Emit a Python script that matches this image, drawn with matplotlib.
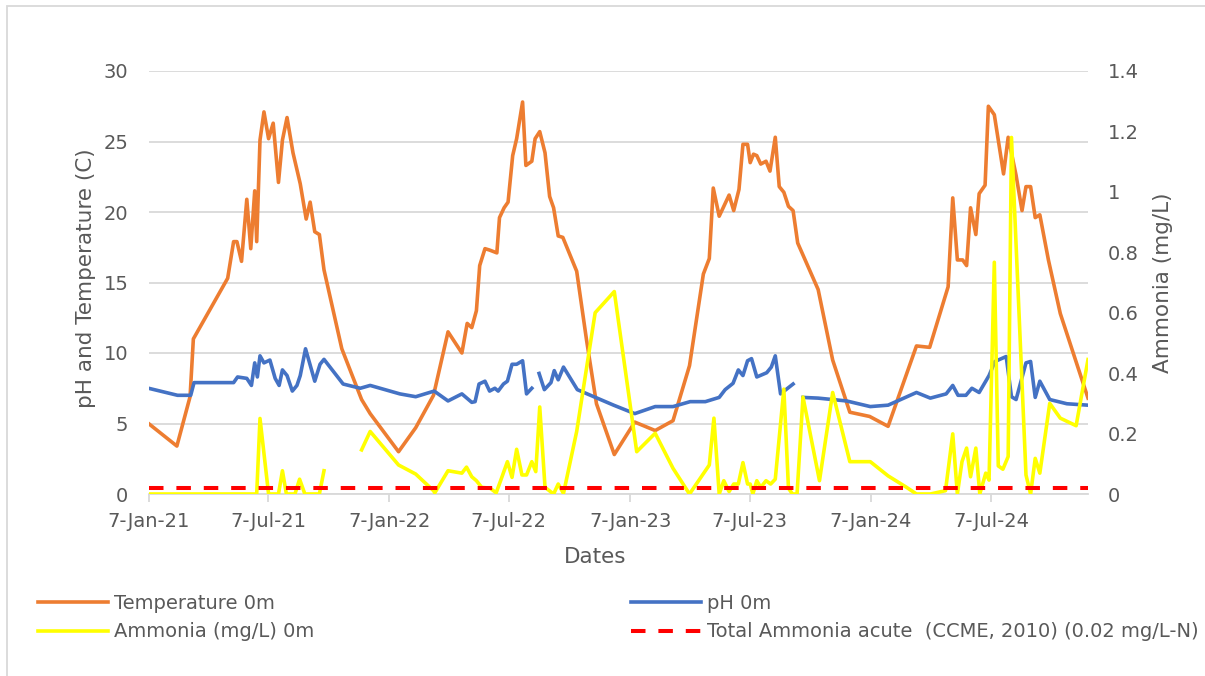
import numpy as np
import pandas as pd
import matplotlib
matplotlib.use("Agg")
import matplotlib.pyplot as plt
from matplotlib.patches import Rectangle

plt.rcParams['font.family'] = ['DejaVu Sans']

# sampling day = days since first sample (7-Jan-21)
start = pd.Timestamp("2021-01-07")
last_day = 1424

temp_days = [0, 43, 63, 68, 120, 129, 134, 141, 149, 155, 161, 164, 169, 175, 182, 189,
             197, 203, 210, 219, 230, 239, 245, 252, 259, 266, 293, 323, 336, 379, 405,
             432, 454, 475, 483, 490, 497, 502, 510, 517, 528, 532, 539, 545, 552, 558,
             567, 572, 581, 586, 593, 601, 608, 614, 621, 628, 649, 664, 679, 706, 737,
             768, 795, 820, 841, 850, 856, 865, 880, 887, 895, 901, 908, 912, 917, 922,
             928, 936, 942, 950, 956, 963, 970, 977, 984, 1015, 1037, 1063, 1093, 1121,
             1164, 1184, 1212, 1219, 1226, 1234, 1240, 1246, 1254, 1259, 1268, 1273,
             1282, 1296, 1303, 1315, 1324, 1330, 1337, 1344, 1351, 1364, 1382, 1424]
temp_vals = [5.0, 3.4, 6.9, 11.0, 15.3, 17.9, 17.9, 16.5, 20.9, 17.4, 21.5, 17.9, 25.1, 27.1,
             25.2, 26.3, 22.1, 25.1, 26.7, 24.2, 22.0, 19.5, 20.7, 18.6, 18.4, 15.9, 10.3,
             6.7, 5.7, 3.0, 4.7, 7.0, 11.5, 10.0, 12.1, 11.8, 13.0, 16.2, 17.4, 17.3, 17.1,
             19.6, 20.3, 20.7, 24.0, 25.2, 27.8, 23.3, 23.6, 25.2, 25.7, 24.2, 21.1, 20.3,
             18.3, 18.2, 15.8, 10.9, 6.4, 2.8, 5.1, 4.5, 5.2, 9.1, 15.6, 16.7, 21.7, 19.7,
             21.2, 20.1, 21.6, 24.8, 24.8, 23.5, 24.1, 24.0, 23.4, 23.6, 22.9, 25.3, 21.8,
             21.4, 20.4, 20.1, 17.8, 14.5, 9.5, 5.8, 5.5, 4.8, 10.5, 10.4, 14.7, 21.0, 16.6,
             16.6, 16.2, 20.3, 18.4, 21.3, 21.9, 27.5, 26.9, 22.7, 25.3, 22.6, 20.1, 21.8,
             21.8, 19.6, 19.8, 16.6, 12.8, 6.8]

ph_days = [0, 44, 64, 69, 129, 135, 149, 156, 161, 165, 169, 175, 184, 192, 198, 203, 210,
           218, 225, 230, 238, 252, 260, 266, 295, 321, 336, 381, 405, 433, 454, 475, 490,
           495, 501, 510, 517, 525, 530, 538, 544, 551, 558, 567, 573, 581, 586, 592, 600,
           610, 615, 621, 629, 650, 705, 737, 768, 795, 821, 844, 865, 874, 886, 894, 901,
           908, 914, 922, 937, 944, 950, 958, 977, 985, 992, 1015, 1058, 1094, 1121, 1164,
           1185, 1209, 1219, 1227, 1239, 1248, 1259, 1274, 1283, 1300, 1308, 1315, 1330,
           1337, 1344, 1351, 1366, 1392, 1424]
ph_vals = [7.5, 7.0, 7.0, 7.9, 7.9, 8.3, 8.2, 7.7, 9.3, 8.3, 9.8, 9.3, 9.5, 8.2, 7.7, 8.8,
           8.4, 7.3, 7.7, 8.4, 10.3, 8.0, 9.2, 9.55, 7.8, 7.5, 7.7, 7.1, 6.9, 7.3, 6.6, 7.1,
           6.5, 6.55, 7.8, 8.0, 7.3, 7.5, 7.3, 7.8, 8.0, 9.2, 9.2, 9.45, 7.1, 7.5, np.nan,
           8.55, 7.4, 7.9, 8.75, 8.1, 9.0, 7.4, 6.3, 5.7, 6.2, 6.2, 6.55, 6.55, 6.85, 7.4,
           7.85, 8.8, 8.4, 9.45, 9.6, 8.3, 8.6, 9.0, 9.8, 7.1, 7.8, np.nan, 6.85, 6.8, 6.6,
           6.2, 6.3, 7.2, 6.8, 7.1, 7.7, 7.0, 7.0, 7.5, 7.2, 8.4, 9.4, 9.75, 6.9, 6.7, 9.3,
           9.4, 6.85, 8.0, 6.7, 6.4, 6.3]

nh3_days = [0, 164, 169, 182, 197, 203, 209, 222, 229, 237, 259, 266, 290, 323, 336, 379,
            405, 432, 434, 454, 475, 482, 490, 497, 505, 518, 527, 535, 544, 551, 558, 566,
            573, 581, 587, 593, 601, 614, 621, 629, 649, 677, 706, 740, 768, 795, 820, 850,
            857, 865, 872, 880, 887, 894, 901, 908, 912, 916, 922, 928, 936, 943, 950, 963,
            970, 976, 983, 992, 1017, 1037, 1063, 1094, 1121, 1149, 1164, 1185, 1208, 1219,
            1226, 1233, 1240, 1246, 1254, 1260, 1269, 1274, 1282, 1288, 1295, 1303, 1308,
            1330, 1337, 1344, 1351, 1366, 1382, 1406, 1424]
nh3_vals = [0, 0, 0.25, 0, 0, 0.077, 0, 0, 0.049, 0, 0, 0.077, np.nan, 0.146, 0.207, 0.096,
            0.066, 0.011, 0.004, 0.077, 0.069, 0.089, 0.057, 0.044, 0.022, 0.019, 0.004,
            0.052, 0.107, 0.055, 0.148, 0.063, 0.063, 0.107, 0.074, 0.288, 0.022, 0, 0.033,
            0.002, 0.207, 0.60, 0.67, 0.140, 0.201, 0.085, 0, 0.096, 0.251, 0, 0.044, 0.008,
            0.033, 0.033, 0.104, 0.033, 0.033, 0, 0.044, 0.022, 0.044, 0.033, 0.049, 0.347,
            0.019, 0, 0, 0.321, 0.044, 0.336, 0.107, 0.107, 0.060, 0.022, 0, 0, 0.011, 0.199,
            0, 0.107, 0.152, 0.057, 0.152, 0, 0.069, 0.046, 0.767, 0.093, 0.082, 0.124, 1.18,
            0.063, 0, 0.118, 0.069, 0.30, 0.251, 0.226, 0.445]

ccme_limit = 0.02  # mg/L-N
tick_labels = ["7-Jan-21", "7-Jul-21", "7-Jan-22", "7-Jul-22",
               "7-Jan-23", "7-Jul-23", "7-Jan-24", "7-Jul-24"]

def to_dates(days):
    return start + pd.to_timedelta(days, unit="D")

txt = "#595959"
grid = "#D9D9D9"
fs = 14
fs_title = 15.5

fig = plt.figure(figsize=(12.05, 6.76), dpi=100)
fig.patches.append(Rectangle((7/1205, -0.1), 1.2, 1 - 6/676 + 0.1, transform=fig.transFigure,
                             fill=False, edgecolor=grid, lw=1.3))
ax = fig.add_axes([148.5/1205, 1 - 494/676, (1088 - 148.5)/1205, (494 - 71)/676])
ax2 = ax.twinx()

l_temp, = ax.plot(to_dates(temp_days), temp_vals, color="#ED7D31", lw=2.6, solid_joinstyle="round")
l_ph, = ax.plot(to_dates(ph_days), ph_vals, color="#4472C4", lw=2.6, solid_joinstyle="round")
l_nh3, = ax2.plot(to_dates(nh3_days), nh3_vals, color="#FFFF00", lw=2.6, solid_joinstyle="round")
l_ccme, = ax2.plot([start, to_dates([last_day])[0]], [ccme_limit, ccme_limit], color="#FF0000",
                   lw=2.9, dashes=(3.6, 3.2))

ax.set_xlim(start, to_dates([last_day])[0])
ax.set_ylim(0, 30)
ax2.set_ylim(0, 1.4)
ax.set_yticks(np.arange(0, 31, 5))
ax2.set_yticks(np.arange(0, 1.41, 0.2))
ax2.set_yticklabels(["0", "0.2", "0.4", "0.6", "0.8", "1", "1.2", "1.4"])
ax.set_xticks(pd.to_datetime(tick_labels, format="%d-%b-%y"))
ax.set_xticklabels(tick_labels)

ax.grid(axis="y", color=grid, lw=1.3)
ax.set_axisbelow(True)
for a in (ax, ax2):
    for s in a.spines.values():
        s.set_visible(False)
ax.spines["bottom"].set_visible(True)
ax.spines["bottom"].set_color(grid)
ax.spines["bottom"].set_linewidth(1.3)
ax.tick_params(axis="x", colors=grid, labelcolor=txt, labelsize=fs, length=6, width=1.3, pad=7)
ax.tick_params(axis="y", length=0, labelcolor=txt, labelsize=fs, pad=14.5)
ax2.tick_params(axis="y", length=0, labelcolor=txt, labelsize=fs, pad=14.5)

ax.set_xlabel("Dates", color=txt, fontsize=fs_title)
ax.xaxis.set_label_coords((595 - 148.5)/939.5, (494 - 557)/423)
ax.xaxis.label.set_va("center")
ax.set_ylabel("pH and Temperature (C)", color=txt, fontsize=fs_title)
ax.yaxis.set_label_coords((86 - 148.5)/939.5, (494 - 278)/423)
ax.yaxis.label.set_va("center")
ax2.set_ylabel("Ammonia (mg/L)", color=txt, fontsize=fs_title)
ax2.yaxis.set_label_coords((1163 - 148.5)/939.5, (494 - 283)/423)
ax2.yaxis.label.set_va("center")

leg_kw = dict(loc="upper left", frameon=False, fontsize=fs, labelcolor=txt, borderpad=0,
              borderaxespad=0, handlelength=3.6, handletextpad=0.3, labelspacing=0.48,
              bbox_transform=fig.transFigure)
fig.legend(handles=[l_temp, l_nh3], labels=["Temperature 0m", "Ammonia (mg/L) 0m"],
           bbox_to_anchor=(38/1205, 1 - 594/676), **leg_kw)
fig.legend(handles=[l_ph, l_ccme], labels=["pH 0m", "Total Ammonia acute  (CCME, 2010) (0.02 mg/L-N)"],
           bbox_to_anchor=(631/1205, 1 - 594/676), **leg_kw)

fig.savefig("out.png", dpi=100)
